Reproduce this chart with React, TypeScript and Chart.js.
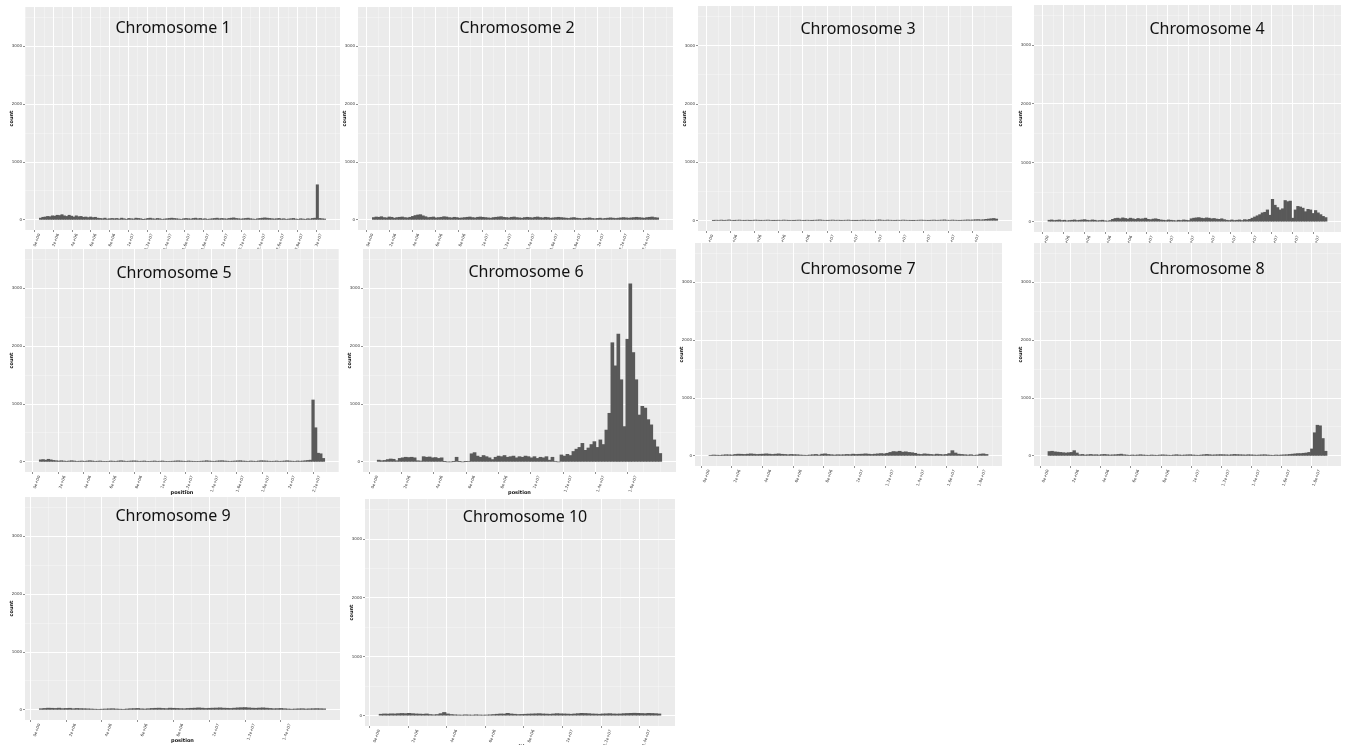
import React, { useEffect, useRef } from "react";
import { Chart, registerables } from "chart.js";

Chart.register(...registerables);

// ---------- data ----------
const CHR_NAMES = [
  "Chromosome 1", "Chromosome 2", "Chromosome 3", "Chromosome 4", "Chromosome 5",
  "Chromosome 6", "Chromosome 7", "Chromosome 8", "Chromosome 9", "Chromosome 10",
];

const CHR1 = [
  30, 45, 50, 60, 55, 70, 65, 80, 75, 90, 70, 60, 80, 65, 50, 70, 55, 60, 45, 50, 40,
  50, 40, 45, 30, 25, 20, 30, 15, 20, 25,
  20, 25, 15, 30, 20, 10, 25, 20, 15, 30, 25, 20, 5, 15, 25, 30, 20, 15, 25, 20,
  10, 15, 20, 25, 30, 25, 20, 15, 10, 20, 25, 20, 15, 25, 30, 20, 25, 15, 20, 10,
  15, 20, 25, 30, 20, 25, 20, 15, 25, 30, 35, 25, 20, 15, 20, 25, 30, 20, 15, 10,
  20, 25, 30, 35, 30, 25, 20, 15, 20, 25, 15, 20, 10, 15, 20, 25, 15, 10, 20, 15,
  10, 20, 15, 25, 30,
  607, 25, 20, 15,
];
const CHR2 = [
  40, 50, 45, 55, 40, 35, 50, 45, 30, 40, 45, 50, 40, 35, 45,
  60, 75, 85, 90, 70, 55,
  40, 45, 50, 35, 40, 45, 55, 50, 40, 35, 45, 40, 30, 35, 40, 45, 50, 40, 35, 45,
  50, 45, 40, 35, 30, 40, 45, 50, 55, 45, 40, 35, 45, 50, 40, 35, 30, 40, 45, 40,
  35, 45, 50, 40, 35, 45, 40, 30, 35, 40, 45, 40, 35, 30, 25, 35, 40, 30, 25, 20,
  25, 30, 35, 25, 20, 25, 30, 20, 25, 30, 35, 30, 25, 30, 35, 40, 35, 30, 35, 40,
  45, 40, 35, 30, 40, 45, 50, 40, 35,
];
const CHR3 = [
  5, 10, 8, 12, 6, 10, 15, 8, 5, 10, 12, 8, 6, 10, 5, 8, 12, 10, 6, 8,
  10, 12, 8, 5, 6, 10, 8, 12, 10, 6, 8, 5, 10, 12, 8, 6, 10, 8, 5, 10,
  12, 15, 10, 8, 6, 10, 12, 8, 10, 6, 8, 10, 12, 8, 6, 5, 8, 10, 12, 8,
  10, 6, 8, 12, 15, 10, 8, 12, 10, 8, 6, 10, 8, 12, 10, 8, 6, 5, 8, 10,
  12, 10, 8, 6, 10, 12, 8, 10, 12, 15, 10, 8, 12, 10, 8, 6, 10, 12, 15, 12,
  15, 18, 20, 15, 18, 25, 30, 35, 40, 30,
];
const CHR4 = [
  25, 30, 20, 25, 30, 20, 25, 15, 20, 25, 30, 20, 25, 30, 35, 25, 20, 30, 25, 15,
  20, 25, 15, 10, 20,
  40, 55, 60, 50, 65, 55, 45, 60, 50, 40, 55, 45, 50, 60, 40, 35, 45, 50, 40, 30,
  25, 20, 30, 25, 20, 15, 25, 20, 30, 25, 20,
  50, 60, 65, 70, 60, 55, 65, 60, 50, 55, 45, 40, 50, 35,
  25, 20, 30, 20, 25, 30, 20, 35, 30, 40,
  60, 80, 100, 120, 150, 160, 200, 110,
  380, 280, 240, 200, 220, 360, 340, 350, 60, 200, 260, 250, 230, 170, 210, 200,
  140, 190, 150, 120, 90, 70,
];
const CHR5 = [
  35, 40, 30, 45, 35, 25, 20, 15, 20, 15, 10, 15, 20, 15, 10, 12, 15, 10, 15, 20,
  15, 10, 12, 15, 10, 8, 10, 15, 12, 10, 15, 20, 15, 10, 12, 15, 18, 15, 10, 12,
  15, 10, 8, 12, 15, 10, 12, 15, 10, 8, 10, 12, 15, 18, 15, 12, 10, 15, 12, 10,
  8, 10, 12, 15, 20, 15, 12, 10, 15, 18, 20, 15, 12, 10, 12, 15, 18, 20, 15, 12,
  10, 15, 12, 10, 15, 20, 18, 15, 12, 10, 12, 15, 10, 12, 15, 20, 15, 12, 10, 15,
  12, 15, 20, 25, 30,
  1070, 590, 150, 140, 60,
];
const CHR6 = [
  30, 20, 25, 40, 50, 45, 20,
  60, 70, 80, 75, 80, 70, 20, 15,
  90, 80, 85, 70, 75, 60, 70, 5,
  0, 0, 5, 80, 5, 0, 5, 10,
  140, 160,
  100, 80, 110, 90, 70, 40,
  80, 100, 90, 110, 80, 90, 100, 70, 90, 80, 100, 90,
  70, 90, 60, 80, 70, 90, 30, 80, 10, 0,
  120, 100, 130, 110,
  180, 220, 250, 320, 200,
  240, 300, 350, 250, 380, 300,
  550, 840, 2060, 1660, 2210, 1420, 610, 2120, 3080, 1890, 1420, 810, 960, 930,
  730, 640, 380, 260, 145,
];
const CHR7 = [
  10, 15, 12, 10, 15, 20, 18, 15, 25, 30, 28, 25, 30, 35, 30, 25, 28, 30, 35, 30,
  25, 30, 35, 28, 25, 20, 25, 22, 20, 15, 12, 10, 15, 20, 25, 15, 30, 35, 25, 20,
  15, 20, 18, 20, 25, 22, 30, 25, 28, 30, 35, 30, 25, 30, 35, 40, 35, 45,
  60, 75, 70, 80, 65, 70, 60, 55, 45,
  30, 25, 35, 30, 25, 20, 30, 25, 20, 25, 40,
  90,
  50, 30, 25, 20, 15, 20, 10, 15, 30, 35, 25,
];
const CHR8 = [
  75, 80, 70, 65, 60, 55, 50, 55, 60, 90, 50,
  20, 25, 15, 20, 25, 18, 20, 15, 22, 25, 20, 15, 18, 20, 25, 30, 20, 15, 10, 15,
  12, 15, 20, 15, 12, 10, 15, 12, 10, 15, 18, 15, 12, 10, 15, 20, 15, 12, 15, 18,
  20, 15, 12, 10, 15, 20, 25, 20, 15, 18, 20, 22, 20, 18, 15, 20, 25, 22, 20, 18,
  15, 20, 18, 15, 12, 15, 18, 20, 15, 12, 10, 15, 12, 15, 18, 20, 25, 30, 35, 40,
  40, 45, 50,
  60, 120, 400, 530, 520, 300, 80,
];
const CHR9 = [
  20, 25, 30, 28, 25, 30, 22, 25, 28, 20, 25, 22, 20, 18, 15, 12, 10, 12, 15, 18,
  20, 15, 12, 10, 15, 20, 22, 25, 18, 15, 20, 25, 28, 30, 25, 22, 30, 28, 25, 22,
  20, 25, 28, 30, 35, 30, 25, 28, 30, 32, 35, 30, 28, 25, 30, 35, 38, 40, 35, 30,
  28, 32, 35, 30, 25, 20, 22, 25, 20, 15, 12, 15, 18, 20, 15, 18, 20, 22, 20, 18,
];
const CHR10 = [
  25, 30, 28, 32, 30, 35, 38, 35, 40, 35, 30, 28, 25, 30, 20, 15, 20, 35, 55, 30,
  20, 15, 12, 10, 15, 12, 10, 15, 12, 10, 12, 15, 20, 25, 30, 28, 40, 30, 25, 20,
  22, 25, 28, 30, 32, 35, 30, 28, 25, 30, 35, 32, 30, 28, 25, 30, 35, 40, 38, 35,
  30, 28, 25, 30, 32, 35, 30, 28, 30, 35, 38, 40, 42, 40, 38, 35, 40, 38, 35, 30,
];

const CHR_COUNTS = [CHR1, CHR2, CHR3, CHR4, CHR5, CHR6, CHR7, CHR8, CHR9, CHR10];
// chromosome length, in units of x-axis tick spacing
const CHR_LENGTHS = [15.25, 12.4, 11.8, 13.4, 11.2, 8.8, 9.1, 9.25, 8.0, 7.3];
const TICK_COUNTS = [16, 13, 12, 14, 12, 9, 10, 10, 8, 8];
const POS_LABELS = [
  "0e+00", "2e+06", "4e+06", "6e+06", "8e+06", "1e+07", "1.2e+07", "1.4e+07",
  "1.6e+07", "1.8e+07", "2e+07", "2.2e+07", "2.4e+07", "2.6e+07", "2.8e+07", "3e+07",
];
const Y_TICKS = [0, 1000, 2000, 3000];
const Y_MIN = -175;
const Y_MAX = 3680;

// ---------- layout ----------
const PANELS = [
  { gx0: 25, gy0: 7, gx1: 340, gy1: 230, tx: 173, ty: 28 },
  { gx0: 358, gy0: 7, gx1: 673, gy1: 230, tx: 517, ty: 28 },
  { gx0: 698, gy0: 6, gx1: 1012, gy1: 231, tx: 858, ty: 29 },
  { gx0: 1034, gy0: 5, gx1: 1341, gy1: 232, tx: 1207, ty: 29 },
  { gx0: 25, gy0: 249, gx1: 339, gy1: 472, tx: 174, ty: 273 },
  { gx0: 363, gy0: 249, gx1: 676, gy1: 472, tx: 526, ty: 272 },
  { gx0: 695, gy0: 243, gx1: 1002, gy1: 466, tx: 858, ty: 269 },
  { gx0: 1034, gy0: 243, gx1: 1341, gy1: 466, tx: 1207, ty: 269 },
  { gx0: 25, gy0: 497, gx1: 340, gy1: 720, tx: 173, ty: 516 },
  { gx0: 365, gy0: 499, gx1: 675, gy1: 726, tx: 525, ty: 517 },
];
const SHOW_X_TITLE = [false, false, false, false, true, true, false, false, true, true];
const Y_AXIS_W = 17;
const X_AXIS_H = 24;
const PAD_T = 2;
const PAD_R = 2;

const bgPlugin = {
  id: "panelBg",
  beforeDraw(chart: any) {
    const { ctx, chartArea } = chart;
    ctx.save();
    ctx.fillStyle = "#ebebeb";
    ctx.fillRect(chartArea.left, chartArea.top, chartArea.right - chartArea.left, chartArea.bottom - chartArea.top);
    ctx.restore();
  },
};

const titlePlugin = {
  id: "panelTitle",
  afterDraw(chart: any, _args: any, opts: any) {
    const ctx = chart.ctx;
    ctx.save();
    ctx.font = '16px "Noto Sans"';
    ctx.fillStyle = "#111111";
    ctx.textAlign = "center";
    ctx.textBaseline = "middle";
    ctx.fillText(opts.text, opts.x, opts.y);
    ctx.restore();
  },
};

function Panel({ idx }: { idx: number }) {
  const ref = useRef<HTMLCanvasElement>(null);
  const p = PANELS[idx];
  const left = p.gx0 - Y_AXIS_W;
  const top = p.gy0 - PAD_T;
  const width = p.gx1 - left + PAD_R;
  const height = p.gy1 - top + X_AXIS_H;

  useEffect(() => {
    const values = CHR_COUNTS[idx];
    const len = CHR_LENGTHS[idx];
    const bw = len / values.length;
    const data = values.map((v, i) => ({ x: (i + 0.5) * bw, y: v }));
    const nT = TICK_COUNTS[idx];
    const xMin = -0.05 * len;
    const xMax = 1.05 * len;
    const xTickVals: number[] = [];
    for (let j = -1; j < nT + 2; j++) {
      if (j >= 0 && j < nT && j >= xMin && j <= xMax) xTickVals.push(j);
      const m = j + 0.5;
      if (m >= xMin && m <= xMax) xTickVals.push(m);
    }
    const yTickVals: number[] = [];
    for (let v = 0; v <= Y_MAX; v += 500) yTickVals.push(v);

    const isMajorX = (v: number) => Number.isInteger(v);
    const isMajorY = (v: number) => Y_TICKS.includes(v);

    const chart = new Chart(ref.current as HTMLCanvasElement, {
      type: "bar",
      data: {
        datasets: [
          {
            data: data as any,
            backgroundColor: "#595959",
            borderWidth: 0,
            barPercentage: 1,
            categoryPercentage: 1,
          },
        ],
      },
      options: {
        animation: false,
        responsive: false,
        devicePixelRatio: 1,
        layout: { padding: { top: PAD_T, right: PAD_R, left: 0, bottom: 0 } },
        plugins: {
          legend: { display: false },
          tooltip: { enabled: false },
          panelTitle: { text: CHR_NAMES[idx], x: p.tx - left, y: p.ty - top },
        } as any,
        scales: {
          x: {
            type: "linear",
            min: xMin,
            max: xMax,
            offset: false,
            afterBuildTicks: (s: any) => {
              s.ticks = xTickVals.map((v) => ({ value: v }));
            },
            afterFit: (s: any) => {
              s.height = X_AXIS_H;
              s.paddingLeft = 0;
              s.paddingRight = 0;
            },
            border: { display: false },
            grid: {
              color: (c: any) => (c.tick && isMajorX(c.tick.value) ? "#ffffff" : "rgba(255,255,255,0.6)"),
              lineWidth: (c: any) => (c.tick && isMajorX(c.tick.value) ? 1 : 0.5),
              tickLength: 2,
              tickColor: (c: any) => (c.tick && isMajorX(c.tick.value) ? "#444444" : "rgba(0,0,0,0)"),
              tickWidth: 0.6,
            },
            ticks: {
              autoSkip: false,
              minRotation: 70,
              maxRotation: 70,
              padding: 1,
              color: "#3a3a3a",
              font: { size: 4, family: "DejaVu Sans" },
              callback: (v: any) => (isMajorX(Number(v)) ? POS_LABELS[Number(v)] ?? "" : ""),
            },
            title: {
              display: SHOW_X_TITLE[idx],
              text: "position",
              color: "#111111",
              font: { size: 5, weight: "bold", family: "DejaVu Sans" },
              padding: 0,
            },
          } as any,
          y: {
            type: "linear",
            min: Y_MIN,
            max: Y_MAX,
            afterBuildTicks: (s: any) => {
              s.ticks = yTickVals.map((v) => ({ value: v }));
            },
            afterFit: (s: any) => {
              s.width = Y_AXIS_W;
              s.paddingTop = 0;
              s.paddingBottom = 0;
            },
            border: { display: false },
            grid: {
              color: (c: any) => (c.tick && isMajorY(c.tick.value) ? "#ffffff" : "rgba(255,255,255,0.6)"),
              lineWidth: (c: any) => (c.tick && isMajorY(c.tick.value) ? 1 : 0.5),
              tickLength: 2,
              tickColor: (c: any) => (c.tick && isMajorY(c.tick.value) ? "#444444" : "rgba(0,0,0,0)"),
              tickWidth: 0.6,
            },
            ticks: {
              autoSkip: false,
              padding: 1,
              color: "#3a3a3a",
              font: { size: 4, family: "DejaVu Sans" },
              callback: (v: any) => (isMajorY(Number(v)) ? String(v) : ""),
            },
            title: {
              display: true,
              text: "count",
              color: "#111111",
              font: { size: 5, weight: "bold", family: "DejaVu Sans" },
              padding: 1,
            },
          } as any,
        },
      },
      plugins: [bgPlugin, titlePlugin],
    });
    return () => chart.destroy();
  }, [idx]);

  return (
    <canvas
      ref={ref}
      width={width}
      height={height}
      style={{ position: "absolute", left, top, width, height }}
    />
  );
}

export default function App() {
  return (
    <div
      style={{
        position: "fixed",
        left: 0,
        top: 0,
        width: 1345,
        height: 745,
        overflow: "hidden",
        background: "#ffffff",
      }}
    >
      {PANELS.map((_, i) => (
        <Panel key={i} idx={i} />
      ))}
    </div>
  );
}
